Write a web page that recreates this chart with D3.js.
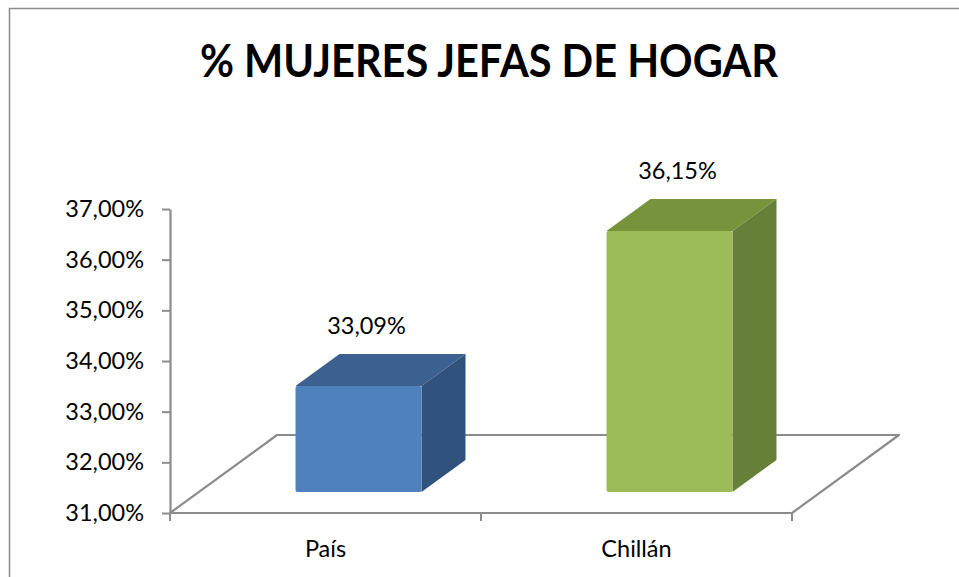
<!DOCTYPE html>
<html>
<head>
<meta charset="utf-8">
<script src="https://cdn.jsdelivr.net/npm/d3@7"></script>
<style>
  html, body { margin: 0; padding: 0; background: #fff; }
  svg { display: block; }
  text { font-family: Lato, "Open Sans", sans-serif; fill: #000; }
</style>
</head>
<body>
<svg id="chart" width="959" height="577"></svg>
<script>
// data
const categories = ["País", "Chillán"];
const values = [33.09, 36.15];
const yTicks = [31, 32, 33, 34, 35, 36, 37];
const titleText = "% MUJERES JEFAS DE HOGAR";
const frontColors = ["#4f81bd", "#9bbb59"];
const topColors = ["#3c6190", "#77933c"];
const sideColors = ["#30527c", "#66803a"];

const esCL = d3.formatLocale({ decimal: ",", thousands: ".", grouping: [3], currency: ["$", ""] });
const fmtPct = v => esCL.format(".2f")(v) + "%";

const svg = d3.select("#chart");

// outer frame (right and bottom edges fall outside the picture)
svg.append("rect")
  .attr("x", 9.5).attr("y", 8.5)
  .attr("width", 1200).attr("height", 1200)
  .attr("fill", "none").attr("stroke", "#8c8c8c").attr("stroke-width", 1.5);

svg.append("text")
  .attr("x", 489).attr("y", 77)
  .attr("text-anchor", "middle")
  .attr("font-size", 45).attr("font-weight", "bold")
  .attr("textLength", 578).attr("lengthAdjust", "spacingAndGlyphs")
  .text(titleText);

// scales
const y = d3.scaleLinear().domain([31, 37]).range([513, 209]);
const x = d3.scaleBand().domain(categories).range([170, 792]).padding(0);

// oblique depth of the floor and of the bars
const depth = { dx: 107, dy: -78 };
const barFront = { dx: 33, dy: -21 };
const barDepth = { dx: 44, dy: -32 };
const barWidth = x.bandwidth() * 0.405;

const grey = "#8c8c8c";
const fs = 23.5;

// floor outline
const x0 = x.range()[0], x1 = x.range()[1], yf = y(31);
svg.append("path")
  .attr("d", `M${x0},${yf} L${x0 + depth.dx},${yf + depth.dy} L${x1 + depth.dx},${yf + depth.dy} L${x1},${yf}`)
  .attr("fill", "none").attr("stroke", grey).attr("stroke-width", 2.2)
  .attr("stroke-linejoin", "round");

// y axis
const yAxis = svg.append("g")
  .attr("transform", `translate(${x0},0)`)
  .call(d3.axisLeft(y).tickValues(yTicks).tickFormat(fmtPct).tickSize(8).tickSizeOuter(0).tickPadding(18));
yAxis.select(".domain").attr("stroke", grey).attr("stroke-width", 2.2);
yAxis.selectAll(".tick line").attr("stroke", grey).attr("stroke-width", 2);
yAxis.selectAll(".tick text").attr("font-size", fs).attr("font-family", "Lato").attr("fill", "#000");

// category axis: front edge of floor, ticks between categories, labels
const xAxis = svg.append("g")
  .attr("transform", `translate(0,${yf})`);
xAxis.append("line")
  .attr("x1", x0).attr("x2", x1)
  .attr("stroke", grey).attr("stroke-width", 2.2);
const bounds = [x0].concat(categories.map(c => x(c) + x.bandwidth()));
xAxis.selectAll("line.tk").data(bounds).join("line")
  .attr("class", "tk")
  .attr("x1", d => d).attr("x2", d => d)
  .attr("y1", 0).attr("y2", 8)
  .attr("stroke", grey).attr("stroke-width", 2);
xAxis.selectAll("text").data(categories).join("text")
  .attr("x", d => x(d) + x.bandwidth() / 2)
  .attr("y", 44)
  .attr("text-anchor", "middle")
  .attr("font-size", fs)
  .text(d => d);

// 3d bars
const bars = svg.append("g").selectAll("g").data(categories).join("g");
bars.each(function (c, i) {
  const g = d3.select(this);
  const fx0 = x(c) + x.bandwidth() / 2 - barWidth / 2 + barFront.dx;
  const fx1 = fx0 + barWidth;
  const fyTop = y(values[i]) + barFront.dy;
  const fyBot = y(31) + barFront.dy;
  const bx = barDepth.dx, by = barDepth.dy;
  // top face
  g.append("path")
    .attr("d", `M${fx0},${fyTop} L${fx0 + bx},${fyTop + by} L${fx1 + bx},${fyTop + by} L${fx1},${fyTop} Z`)
    .attr("fill", topColors[i]);
  // side face
  g.append("path")
    .attr("d", `M${fx1},${fyTop} L${fx1 + bx},${fyTop + by} L${fx1 + bx},${fyBot + by} L${fx1},${fyBot} Z`)
    .attr("fill", sideColors[i]);
  // front face
  g.append("rect")
    .attr("x", fx0).attr("y", fyTop)
    .attr("width", barWidth).attr("height", fyBot - fyTop)
    .attr("rx", 2)
    .attr("fill", frontColors[i]);
  // value label
  g.append("text")
    .attr("x", fx0 + barWidth / 2 + 8)
    .attr("y", fyTop + by - 20)
    .attr("text-anchor", "middle")
    .attr("font-size", fs)
    .text(fmtPct(values[i]));
});
</script>
</body>
</html>
